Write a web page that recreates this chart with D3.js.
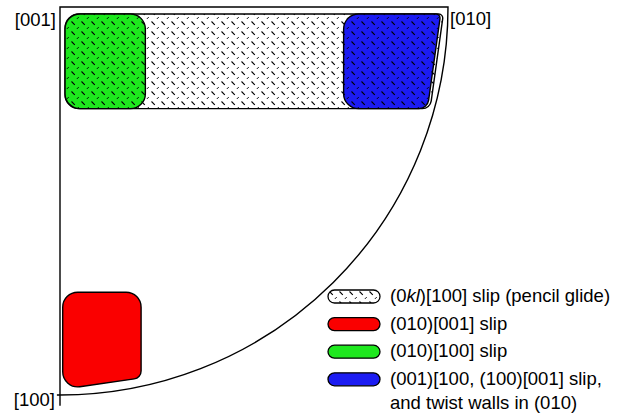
<!DOCTYPE html>
<html>
<head>
<meta charset="utf-8">
<script src="https://cdn.jsdelivr.net/npm/d3@7"></script>
<style>
  body { margin: 0; background: #fff; }
  text { font-family: "Liberation Sans", Arial, sans-serif; }
</style>
</head>
<body>
<div id="chart"></div>
<script>
// inverse pole figure, stereographic, [001] at the origin
// coordinates are in units of the projection radius (0..1)

const poles = ['[001]', '[010]', '[100]'];
const polePos = [[0, 0], [1, 0], [0, 1]];

// draw order: pencil glide first, the others on top
const regionNames = ['pencil', 'red', 'green', 'blue'];
// polygon vertices [x, y] in projection units
const regionPts = [
	[[0.013, 0.018], [0.988, 0.018], [0.954, 0.262], [0.013, 0.262]],
	[[0.007, 0.735], [0.209, 0.735], [0.209, 0.956], [0.007, 0.985]],
	[[0.013, 0.018], [0.220, 0.018], [0.220, 0.262], [0.013, 0.262]],
	[[0.731, 0.018], [0.981, 0.018], [0.947, 0.262], [0.731, 0.262]]
];

const legendLabels = [
	['(0', {i: 'kl'}, ')[100] slip (pencil glide)'],
	['(010)[001] slip'],
	['(010)[100] slip'],
	['(001)[100, (100)[001] slip,', '\n', 'and twist walls in (010)']
];

// styling
const fills = {pencil: '#ffffff', green: '#1ee81e', blue: '#1c1cf2', red: '#fa0000'};
const patterned = {pencil: true, green: true, blue: true, red: false};
const cornerR = {
	pencil: [14, 4, 9, 14],
	green: [15, 15, 15, 15],
	blue: [15, 4, 10, 15],
	red: [15, 15, 8, 15]
};

const W = 624, H = 414;
const svg = d3.select('#chart').append('svg')
	.attr('width', W).attr('height', H);

const x = d3.scaleLinear().domain([0, 1]).range([60, 448]);
const y = d3.scaleLinear().domain([0, 1]).range([7, 395]);

// diamond plate pattern
const defs = svg.append('defs');
const pat = defs.append('pattern')
	.attr('id', 'plate')
	.attr('patternUnits', 'userSpaceOnUse')
	.attr('width', 10).attr('height', 10);
pat.append('line').attr('x1', 1.5).attr('y1', 1.5).attr('x2', 4.8).attr('y2', 4.8)
	.attr('stroke', '#000').attr('stroke-width', 1.1);
pat.append('line').attr('x1', 6.8).attr('y1', 9).attr('x2', 8.8).attr('y2', 7)
	.attr('stroke', '#000').attr('stroke-width', 0.9);

function roundedPath(pts, radii){
	let p = d3.path();
	let n = pts.length;
	let px = pts.map(d => [x(d[0]), y(d[1])]);
	let last = px[n - 1], first = px[0];
	p.moveTo((last[0] + first[0]) / 2, (last[1] + first[1]) / 2);
	px.forEach((v, i) => {
		let nx = px[(i + 1) % n];
		p.arcTo(v[0], v[1], nx[0], nx[1], radii[i]);
	});
	p.closePath();
	return p.toString();
}

// regions
regionNames.forEach((name, i) => {
	let d = roundedPath(regionPts[i], cornerR[name]);
	let g = svg.append('g').attr('class', 'region ' + name);
	g.append('path').attr('d', d).attr('fill', fills[name]);
	if(patterned[name]){
		g.append('path').attr('d', d).attr('fill', 'url(#plate)');
	}
	g.append('path').attr('d', d)
		.attr('fill', 'none').attr('stroke', '#000').attr('stroke-width', 1.4);
});

// triangle outline
let R = x(1) - x(0);
let outline = d3.path();
outline.moveTo(x(0), y(1.028));
outline.lineTo(x(0), y(0));
outline.lineTo(x(1), y(0));
outline.arc(x(0), y(0), R, 0, Math.PI / 2 + 0.008);
svg.append('path').attr('d', outline.toString())
	.attr('fill', 'none').attr('stroke', '#000').attr('stroke-width', 1.4);

// pole labels
const poleText = [
	{dx: -4, dy: 19, anchor: 'end'},
	{dx: 2, dy: 18, anchor: 'start'},
	{dx: -5, dy: 11, anchor: 'end'}
];
poles.forEach((p, i) => {
	svg.append('text')
		.attr('x', x(polePos[i][0]) + poleText[i].dx)
		.attr('y', y(polePos[i][1]) + poleText[i].dy)
		.attr('text-anchor', poleText[i].anchor)
		.attr('font-size', 18.5)
		.text(p);
});

// legend, rows follow regionNames order
const legendOrder = ['pencil', 'red', 'green', 'blue'];
const lg = svg.append('g').attr('transform', 'translate(328,290)');
const rowH = 27.6;
legendLabels.forEach((lab, i) => {
	let name = legendOrder[i];
	let row = lg.append('g').attr('transform', `translate(0,${i * rowH})`);
	row.append('rect').attr('width', 52).attr('height', 13).attr('rx', 6.5)
		.attr('fill', fills[name]);
	if(i === 0){
		row.append('rect').attr('width', 52).attr('height', 13).attr('rx', 6.5)
			.attr('fill', 'url(#plate)');
	}
	row.append('rect').attr('width', 52).attr('height', 13).attr('rx', 6.5)
		.attr('fill', 'none').attr('stroke', '#000').attr('stroke-width', 1.3);

	let t = row.append('text').attr('x', 62).attr('y', 12).attr('font-size', 18.5);
	let line = 0, started = false;
	lab.forEach(part => {
		if(part === '\n'){ line++; started = false; return; }
		let s = t.append('tspan');
		if(line > 0 && !started){
			s.attr('x', 62).attr('dy', 24);
			started = true;
		}
		if(typeof part === 'object'){
			s.attr('font-style', 'italic').text(part.i);
		}else{
			s.text(part);
		}
	});
});
</script>
</body>
</html>
